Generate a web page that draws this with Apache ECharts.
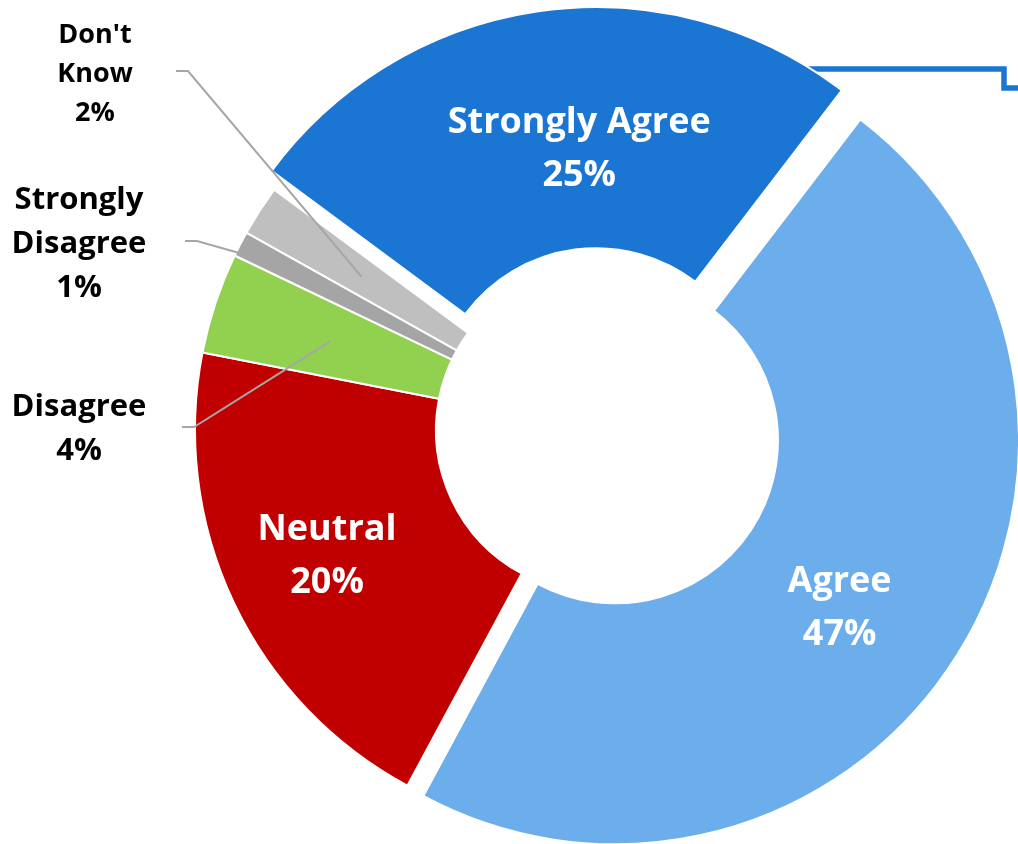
<!DOCTYPE html>
<html>
<head>
<meta charset="utf-8">
<script src="https://cdn.jsdelivr.net/npm/echarts@6/dist/echarts.min.js"></script>
<style>
  html, body { margin: 0; padding: 0; background: #fff; }
  #main { width: 1018px; height: 844px; }
</style>
</head>
<body>
<div id="main"></div>
<script>
// survey answers, clockwise from the top-left
var categories = ['Strongly Agree', 'Agree', 'Neutral', 'Disagree', 'Strongly Disagree', "Don't Know"];
var values = [25, 47, 20, 4, 1, 2];
var colors = ['#1a76d2', '#6cadec', '#c00000', '#92d050', '#a5a5a5', '#bfbfbf'];
var exploded = [true, true, false, false, false, false];
var outsideLabel = [false, false, false, true, true, true];

var CX = 599, CY = 430, R0 = 163, R = 404;

// where the small-slice labels sit, and where their leader lines end
var labelSpots = {
  3: { x: 79, y: 429, lx: 182, ly: 427, k: 0.70 },
  4: { x: 79, y: 244, lx: 185, ly: 241, k: 0.89 },
  5: { x: 95, y: 74, lx: 176, ly: 71, k: 0.70 }
};
// small shifts for the labels inside the ring
var labelNudge = { 0: [23, 22], 1: [-16, 12], 2: [-13, 4] };

var chart = echarts.init(document.getElementById('main'));

var pieBase = {
  type: 'pie',
  center: [CX, CY],
  radius: [R0, R],
  startAngle: 143.5,
  clockwise: true,
  avoidLabelOverlap: false,
  emphasis: { disabled: true }
};

var option = {
  animation: false,
  backgroundColor: '#fff',
  graphic: [{
    type: 'polyline',
    z: 0,
    silent: true,
    shape: { points: [[806, 69], [1004, 69], [1004, 88], [1025, 88]] },
    style: { stroke: '#1a76d2', lineWidth: 5.5, fill: null }
  }],
  series: [
    // the ring itself, with the big labels inside
    echarts.util.merge({
      z: 2,
      selectedMode: 'multiple',
      selectedOffset: 19,
      itemStyle: { borderColor: '#fff', borderWidth: 2 },
      select: { itemStyle: { borderColor: '#fff', borderWidth: 2 } },
      label: {
        position: 'inside',
        color: '#fff',
        fontFamily: 'Open Sans',
        fontWeight: 'bold',
        fontSize: 36,
        lineHeight: 53,
        formatter: '{b}\n{c}%'
      },
      labelLine: { show: false },
      labelLayout: function (p) {
        var n = labelNudge[p.dataIndex];
        return n ? { dx: n[0], dy: n[1] } : {};
      },
      data: categories.map(function (name, i) {
        return {
          name: name,
          value: values[i],
          selected: exploded[i],
          itemStyle: { color: colors[i] },
          label: { show: !outsideLabel[i] }
        };
      })
    }, pieBase),
    // same ring, invisible, on top: carries the small labels and leader lines
    echarts.util.merge({
      z: 3,
      silent: true,
      itemStyle: { color: 'rgba(0,0,0,0)', borderWidth: 0 },
      label: {
        position: 'outside',
        color: '#000',
        fontFamily: 'Open Sans',
        fontWeight: 'bold',
        formatter: function (p) {
          return p.name.replace(' ', '\n') + '\n' + p.value + '%';
        }
      },
      labelLine: { show: true, lineStyle: { color: '#a6a6a6', width: 2 } },
      labelLayout: function (p) {
        var s = labelSpots[p.dataIndex];
        if (!s || !p.labelLinePoints) return {};
        var p0 = p.labelLinePoints[0];
        var start = [CX + (p0[0] - CX) * s.k, CY + (p0[1] - CY) * s.k];
        return {
          x: s.x,
          y: s.y,
          align: 'center',
          verticalAlign: 'middle',
          labelLinePoints: [start, [s.lx + 12, s.ly], [s.lx, s.ly]]
        };
      },
      data: categories.map(function (name, i) {
        var small = outsideLabel[i];
        return {
          name: name,
          value: values[i],
          label: { show: small, fontSize: i === 5 ? 27 : 31, lineHeight: i === 5 ? 39 : 44 },
          labelLine: { show: small }
        };
      })
    }, pieBase)
  ]
};

chart.setOption(option);
</script>
</body>
</html>
